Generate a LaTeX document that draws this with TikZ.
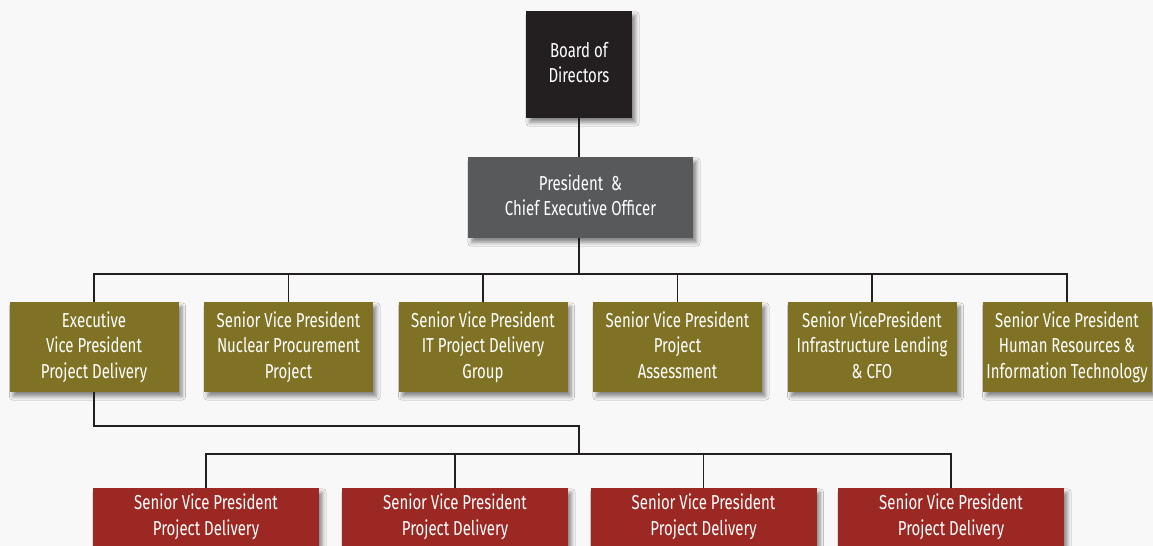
\documentclass[tikz,border=0pt]{standalone}
\usepackage{fontspec}
\setmainfont[FakeStretch=0.74]{Fira Sans}
\usepackage{xcolor}
\usetikzlibrary{shadows.blur}
\definecolor{boardblack}{RGB}{35,31,32}
\definecolor{ceogrey}{RGB}{88,89,91}
\definecolor{svpolive}{RGB}{128,114,36}
\definecolor{deliveryred}{RGB}{156,40,35}
\definecolor{linedark}{RGB}{35,31,32}
\definecolor{backdrop}{RGB}{248,248,248}

% fixed top and bottom struts so all labels sit alike
\newcommand{\topstrut}{\rule{0pt}{10pt}}
\newcommand{\botstrut}{\rule[-2.5pt]{0pt}{2.5pt}}

\begin{document}
\begin{tikzpicture}
    % Define styles
    \tikzstyle{box} = [rectangle, text=white, align=center, inner sep=0pt, font=\fontsize{11.5}{14.5}\selectfont, execute at begin node=\topstrut, execute at end node=\botstrut, blur shadow={shadow xshift=0.07cm, shadow yshift=-0.09cm, shadow blur steps=6, shadow opacity=45}]
    \tikzstyle{board} = [box, fill=boardblack, minimum width=2.12cm, minimum height=2.14cm]
    \tikzstyle{ceo} = [box, fill=ceogrey, minimum width=4.5cm, minimum height=1.62cm]
    \tikzstyle{svp} = [box, fill=svpolive, minimum width=3.38cm, minimum height=1.8cm]
    \tikzstyle{delivery} = [box, fill=deliveryred, minimum width=4.52cm, minimum height=1.16cm]
    \tikzstyle{link} = [line width=1pt, linedark]

    % Canvas
    \fill [backdrop] (0,0) rectangle (23.06,-10.92);
    \useasboundingbox (0,0) rectangle (23.06,-10.92);

    % Top of the chart
    \node (board) [board] at (11.58,-1.29) {Board of\\Directors};
    \node (ceo) [ceo] at (11.61,-3.95) {President \ \&\\Chief Executive Officer};

    % Senior management row
    \node (evp) [svp] at (1.88,-6.94) {Executive\\Vice President\\Project Delivery};
    \node (nuclear) [svp] at (5.77,-6.94) {Senior Vice President\\Nuclear Procurement\\Project};
    \node (itgroup) [svp] at (9.66,-6.94) {Senior Vice President\\IT Project Delivery\\Group};
    \node (assess) [svp] at (13.55,-6.94) {Senior Vice President\\Project\\Assessment};
    \node (lending) [svp] at (17.44,-6.94) {Senior VicePresident\\Infrastructure Lending\\\& CFO};
    \node (hrit) [svp] at (21.34,-6.94) {Senior Vice President\\Human Resources \&\\Information Technology};

    % Project delivery row
    \node (pd1) [delivery] at (4.12,-10.34) {Senior Vice President\\Project Delivery};
    \node (pd2) [delivery] at (9.10,-10.34) {Senior Vice President\\Project Delivery};
    \node (pd3) [delivery] at (14.07,-10.34) {Senior Vice President\\Project Delivery};
    \node (pd4) [delivery] at (19.02,-10.34) {Senior Vice President\\Project Delivery};

    % Bus lines
    \coordinate (topbus) at (11.58,-5.48);
    \coordinate (split) at (11.58,-8.52);
    \coordinate (lowbus) at (11.58,-9.08);

    % Draw reporting lines
    \draw [link] (board.south) -- (board.south |- ceo.north);
    \draw [link] (ceo.south -| topbus) -- (topbus);
    \foreach \n in {evp,nuclear,itgroup,assess,lending,hrit}
        \draw [link] (\n.north) |- (topbus);
    \draw [link] (evp.south) |- (split) -- (lowbus);
    \foreach \n in {pd1,pd2,pd3,pd4}
        \draw [link] (\n.north) |- (lowbus);
\end{tikzpicture}
\end{document}
